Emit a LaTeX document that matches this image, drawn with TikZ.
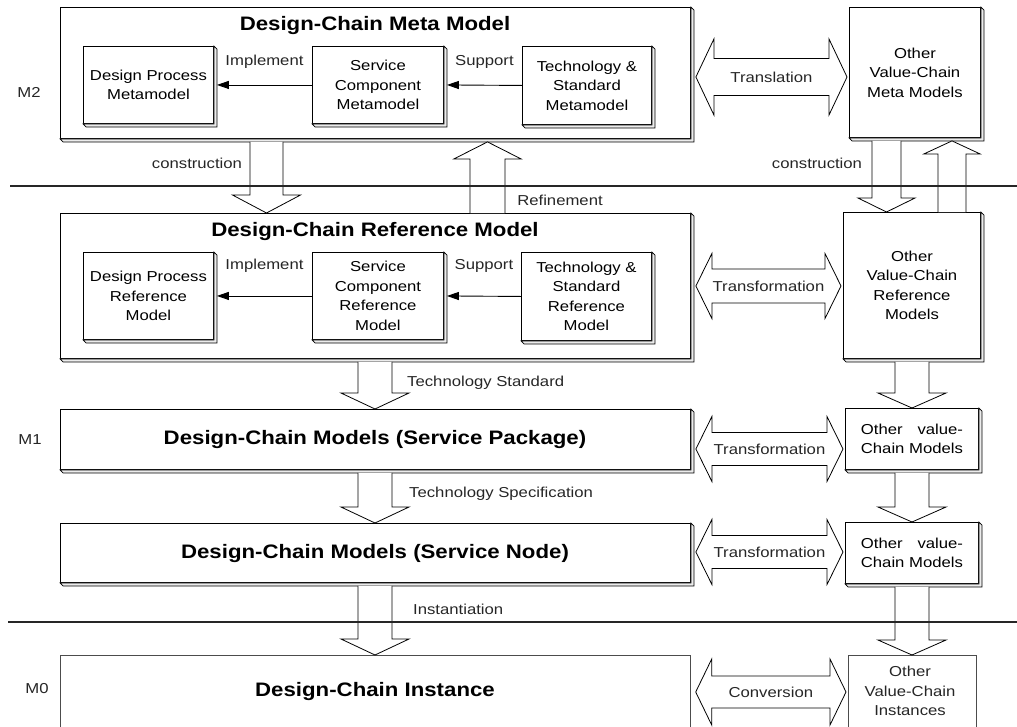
\documentclass[tikz,border=0pt]{standalone}
\usepackage{fontspec}
\setmainfont{Liberation Sans}[FakeStretch=1.16]
\newfontfamily\titlefont{Liberation Sans}[FakeStretch=1.14]
\usetikzlibrary{calc,arrows.meta}

\tikzset{
  box/.style={draw, line width=0.9pt, fill=white, inner sep=0pt, align=center,
    font=\fontsize{14.4}{19.5}\selectfont},
  thinbox/.style={draw=black!70, line width=0.7pt, fill=white, inner sep=0pt},
  bevelstyle/.style={draw, line width=0.7pt, fill=gray!15, line join=miter},
  blk/.style={draw, line width=0.8pt, fill=white, line join=miter},
  lbl/.style={font=\fontsize{14.4}{19.5}\selectfont, inner sep=0pt, align=center, text=black!85},
  ttl/.style={font=\titlefont\bfseries\fontsize{19.5}{22}\selectfont, inner sep=0pt},
  sep/.style={line width=2pt, black!85},
  imp/.style={-{Triangle[length=12pt,width=8pt]}, line width=0.9pt},
}

% box: name, x1, y1, x2, y2, style, text
\newcommand\mkbox[7]{\node[#6, anchor=north west, minimum width={#4pt-#2pt}, minimum height={#5pt-#3pt}] (#1) at (#2,#3) {#7};}
\newcommand\mybevel[1]{\path[bevelstyle] (#1.north east) -- ($(#1.north east)+(3,3)$) -- ($(#1.south east)+(3,3)$) -- ($(#1.south west)+(3,3)$) -- (#1.south west) -- (#1.south east) -- cycle;}
% down block arrow: x1 x2 from to wing headlen
\newcommand\dblk[6]{\draw[blk] let \p1=(#3.south), \p2=(#4.north) in
  (#1pt,{\y1-3pt}) -- (#1pt,{\y2+#6pt}) -- ({#1pt-#5pt},{\y2+#6pt}) -- ({(#1pt+#2pt)/2},\y2)
  -- ({#2pt+#5pt},{\y2+#6pt}) -- (#2pt,{\y2+#6pt}) -- (#2pt,{\y1-3pt});}
% up block arrow: x1 x2 from(lower) to(upper) wing headlen
\newcommand\ublk[6]{\draw[blk] let \p1=(#3.north), \p2=(#4.south) in
  (#1pt,\y1) -- (#1pt,{\y2-3pt-#6pt}) -- ({#1pt-#5pt},{\y2-3pt-#6pt}) -- ({(#1pt+#2pt)/2},{\y2-3pt})
  -- ({#2pt+#5pt},{\y2-3pt-#6pt}) -- (#2pt,{\y2-3pt-#6pt}) -- (#2pt,\y1);}
% double horizontal block arrow: left right ycenter shafthalf headhalf headlen name label
\newcommand\hblk[8]{\draw[blk] let \p1=($(#1.east)+(5,0)$), \p2=($(#2.west)+(-2,0)$) in
  (\x1,-#3pt) -- ({\x1+#6pt},{-#3pt+#5pt}) -- ({\x1+#6pt},{-#3pt+#4pt}) -- ({\x2-#6pt},{-#3pt+#4pt})
  -- ({\x2-#6pt},{-#3pt+#5pt}) -- (\x2,-#3pt) -- ({\x2-#6pt},{-#3pt-#5pt}) -- ({\x2-#6pt},{-#3pt-#4pt})
  -- ({\x1+#6pt},{-#3pt-#4pt}) -- ({\x1+#6pt},{-#3pt-#5pt}) -- cycle
  ({(\x1+\x2)/2},-#3pt) node[lbl] (#7) {#8};}

\begin{document}
\begin{tikzpicture}[x=1pt,y=-1pt]
\useasboundingbox (0,0) rectangle (1017,726);
\clip (0,0) rectangle (1017,726);

% level labels
\node[lbl] (m2) at (29,92) {M2};
\node[lbl] (m1) at (30,440) {M1};
\node[lbl] (m0) at (37,689) {M0};

% ---- M2 row
\mkbox{meta}{60}{7}{690}{138}{box}{}
\mybevel{meta}
\node[ttl] (metat) at (375,25) {Design-Chain Meta Model};
\mkbox{dpm}{83}{46}{213}{123}{box}{Design Process\\Metamodel}
\mybevel{dpm}
\mkbox{scm}{312}{46}{443}{123}{box}{Service\\Component\\Metamodel}
\mybevel{scm}
\mkbox{tsm}{522}{46}{651}{124}{box}{Technology \&\\Standard\\Metamodel}
\mybevel{tsm}
\draw[imp] (scm.west) -- ($(dpm.east)+(3,0)$) node[lbl, midway, yshift=23pt] (impl1) {Implement};
\draw[imp] (tsm.west) -- ($(scm.east)+(3,0)$) node[lbl, midway, yshift=23pt] (supp1) {Support};

\mkbox{ovcmeta}{849}{7}{980}{137}{box}{Other\\Value-Chain\\Meta Models}
\mybevel{ovcmeta}
\hblk{meta}{ovcmeta}{77}{18.5}{38}{18}{tr1}{Translation}

% ---- reference row
\mkbox{ref}{60}{213}{690}{358}{box}{}
\mybevel{ref}
\node[ttl] (reft) at (375,231) {Design-Chain Reference Model};
\mkbox{dprm}{83}{252}{213}{339}{box}{Design Process\\Reference\\Model}
\mybevel{dprm}
\mkbox{scrm}{312}{252}{443}{339}{box}{Service\\Component\\Reference\\Model}
\mybevel{scrm}
\mkbox{tsrm}{521}{252}{651}{340}{box}{Technology \&\\Standard\\Reference\\Model}
\mybevel{tsrm}
\draw[imp] (scrm.west) -- ($(dprm.east)+(3,0)$) node[lbl, midway, yshift=30pt] (impl2) {Implement};
\draw[imp] (tsrm.west) -- ($(scrm.east)+(3,0)$) node[lbl, midway, yshift=30pt] (supp2) {Support};

\mkbox{ovcref}{843}{212}{980}{358}{box}{Other\\Value-Chain\\Reference\\Models}
\mybevel{ovcref}
\hblk{ref}{ovcref}{286}{17}{32.5}{16}{tr2}{Transformation}

% ---- M1 rows
\mkbox{pkg}{60}{409}{690}{469}{box}{}
\mybevel{pkg}
\node[ttl] (pkgt) at (375,439) {Design-Chain Models (Service Package)};
\mkbox{ovcm1}{845}{408}{978}{469}{box}{\setbox0\hbox{Chain Models}\makebox[\wd0][s]{Other\hfill value-}\\Chain Models}
\mybevel{ovcm1}
\hblk{pkg}{ovcm1}{449}{16.5}{32.5}{16}{tr3}{Transformation}

\mkbox{snode}{60}{523}{690}{582}{box}{}
\mybevel{snode}
\node[ttl] (snodet) at (375,553) {Design-Chain Models (Service Node)};
\mkbox{ovcm2}{845}{522}{978}{583}{box}{\setbox0\hbox{Chain Models}\makebox[\wd0][s]{Other\hfill value-}\\Chain Models}
\mybevel{ovcm2}
\hblk{snode}{ovcm2}{552}{16.5}{32.5}{16}{tr4}{Transformation}

% ---- M0 row
\mkbox{inst}{60}{655}{690}{780}{thinbox}{}
\node[ttl] (instt) at (375,691) {Design-Chain Instance};
\mkbox{ovcinst}{848}{655}{976}{780}{thinbox}{}
\node[lbl] (ovcinstt) at (910,691) {Other\\Value-Chain\\Instances};
\hblk{inst}{ovcinst}{692}{16}{33}{16}{tr5}{Conversion}

% ---- vertical block arrows, left column
\dblk{250}{283}{meta}{ref}{17.5}{18}
\node[lbl] (cons1) at (197,163) {construction};
\ublk{470}{505}{ref}{meta}{16}{17}
\node[lbl] (refin) at (560,200) {Refinement};
\dblk{358}{392}{ref}{pkg}{17}{16}
\node[lbl, anchor=west] (techstd) at (407,383) {Technology Standard};
\dblk{358}{392}{pkg}{snode}{17}{16}
\node[lbl, anchor=west] (techspec) at (409,494) {Technology Specification};
\dblk{358}{392}{snode}{inst}{17}{16}
\node[lbl, anchor=west] (instan) at (413,609) {Instantiation};

% ---- vertical block arrows, right column
\dblk{872}{901}{ovcmeta}{ovcref}{14}{14}
\node[lbl] (cons2) at (817,163) {construction};
\ublk{938}{966}{ovcref}{ovcmeta}{14}{13}
\dblk{895}{929}{ovcref}{ovcm1}{17}{15}
\dblk{895}{929}{ovcm1}{ovcm2}{17}{15}
\dblk{895}{929}{ovcm2}{ovcinst}{17}{15}

% separators (drawn over the arrow shafts, as in the reference)
\draw[sep] (10,186) -- (1017,186);
\draw[sep] (8,622) -- (1017,622);
\end{tikzpicture}
\end{document}
